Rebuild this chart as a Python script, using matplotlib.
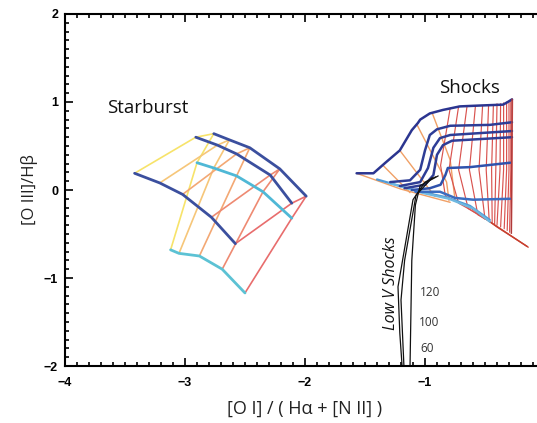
import numpy as np
import matplotlib.pyplot as plt
from matplotlib.ticker import MultipleLocator

# ---- starburst grid: rows (metallicity tracks) x columns (ionisation) ----
sb_rows = {
    'A': [(-3.42, 0.19), (-3.21, 0.08), (-3.02, -0.05), (-2.78, -0.31), (-2.58, -0.61)],
    'B': [(-2.91, 0.60), (-2.73, 0.51), (-2.57, 0.41), (-2.29, 0.17), (-2.11, -0.15)],
    'C': [(-2.76, 0.64), (-2.63, 0.57), (-2.46, 0.48), (-2.21, 0.24), (-1.99, -0.07)],
    'D': [(-2.90, 0.31), (-2.76, 0.25), (-2.57, 0.16), (-2.35, -0.02), (-2.11, -0.32)],
    'E': [(-3.12, -0.68), (-3.05, -0.72), (-2.88, -0.75), (-2.69, -0.90), (-2.50, -1.17)],
}
sb_row_colors = {'A': '#3b4f9e', 'B': '#3b4f9e', 'C': '#3b4f9e',
                 'D': '#4fb8d6', 'E': '#5cc2d4'}
sb_col_colors = ['#f7e36a', '#f6c679', '#f3a874', '#ee8a72', '#e86d6d']

# ---- shock grid ----
shock_top = [(-1.57, 0.19), (-1.43, 0.19), (-1.33, 0.31), (-1.21, 0.45), (-1.11, 0.68),
             (-1.06, 0.76), (-1.04, 0.80), (-0.96, 0.87), (-0.85, 0.91), (-0.71, 0.95),
             (-0.54, 0.96), (-0.35, 0.97), (-0.31, 1.00), (-0.275, 1.03)]
shock_b = [
    [(-1.29, 0.09), (-1.125, 0.11), (-1.04, 0.23), (-1.00, 0.45), (-0.96, 0.625),
     (-0.90, 0.69), (-0.79, 0.73), (-0.46, 0.74), (-0.275, 0.77)],
    [(-1.21, 0.045), (-1.04, 0.09), (-0.975, 0.25), (-0.93, 0.48), (-0.875, 0.59),
     (-0.79, 0.625), (-0.275, 0.67)],
    [(-1.17, 0.02), (-1.00, 0.06), (-0.93, 0.17), (-0.90, 0.40), (-0.85, 0.51),
     (-0.775, 0.56), (-0.275, 0.60)],
    [(-1.11, 0.00), (-0.96, 0.02), (-0.87, 0.06), (-0.83, 0.17), (-0.81, 0.25),
     (-0.625, 0.26), (-0.29, 0.31)],
    [(-1.08, -0.02), (-0.875, -0.02), (-0.75, -0.09), (-0.60, -0.11), (-0.29, -0.10)],
]
shock_b_colors = ['#2e3d96', '#2e3d96', '#2e3d96', '#2f52ac', '#3a6cc0']
shock_band = [
    [(-1.40, 0.12), (-1.04, -0.02), (-0.83, -0.08), (-0.625, -0.18), (-0.46, -0.34)],
    [(-1.30, 0.08), (-1.00, -0.04), (-0.80, -0.10), (-0.60, -0.21), (-0.46, -0.36)],
]
shock_band_colors = ['#4f9ad8', '#6fb8e0']

shock_orange = [
    [(-1.57, 0.19), (-1.20, 0.01), (-0.79, -0.14)],
    [(-1.35, 0.28), (-1.125, -0.03)],
    [(-1.21, 0.45), (-0.92, -0.07)],
    [(-1.07, 0.75), (-0.82, 0.09), (-0.80, -0.12)],
    [(-0.94, 0.875), (-0.79, 0.34), (-0.75, -0.11)],
]
shock_red = [
    [(-0.79, 0.93), (-0.87, 0.28), (-0.83, -0.07), (-0.60, -0.22)],
    [(-0.72, 0.95), (-0.80, 0.23), (-0.72, -0.15), (-0.55, -0.28)],
    [(-0.65, 0.95), (-0.72, 0.23), (-0.64, -0.21), (-0.50, -0.33)],
    [(-0.58, 0.95), (-0.63, 0.23), (-0.56, -0.28), (-0.47, -0.35)],
    [(-0.52, 0.96), (-0.55, 0.23), (-0.50, -0.33)],
    [(-0.47, 0.97), (-0.49, 0.23), (-0.465, -0.35)],
    [(-0.43, 0.97), (-0.445, 0.23), (-0.44, -0.37)],
    [(-0.40, 0.98), (-0.41, 0.23), (-0.42, -0.39)],
    [(-0.37, 0.98), (-0.375, 0.23), (-0.40, -0.40)],
    [(-0.345, 0.99), (-0.345, 0.23), (-0.37, -0.42)],
    [(-0.32, 1.00), (-0.32, 0.23), (-0.34, -0.44)],
    [(-0.30, 1.01), (-0.30, 0.23), (-0.315, -0.46)],
    [(-0.285, 1.02), (-0.285, 0.23), (-0.295, -0.48)],
    [(-0.27, 1.03), (-0.275, 0.23), (-0.28, -0.49)],
]
shock_tail = [
    [(-0.60, -0.22), (-0.46, -0.36), (-0.14, -0.65)],
    [(-0.52, -0.30), (-0.40, -0.42), (-0.15, -0.64)],
]

# ---- low velocity shocks ----
lowv = [
    [(-0.91, 0.15), (-1.00, 0.09), (-1.10, -0.11), (-1.225, -1.10), (-1.21, -1.625), (-1.19, -2.02)],
    [(-0.89, 0.16), (-1.04, 0.05), (-1.08, -0.17), (-1.11, -0.80), (-1.125, -2.02)],
    [(-0.94, 0.14), (-1.075, -0.06), (-1.17, -0.80), (-1.20, -1.25), (-1.175, -2.02)],
]
lowv_labels = ['120', '100', '60']
lowv_label_pos = [(-0.955, -1.17), (-0.97, -1.51), (-0.985, -1.80)]

x_ticks = [-4, -3, -2, -1]
y_ticks = [-2, -1, 0, 1, 2]


def draw(ax, pts, **kw):
    a = np.array(pts)
    ax.plot(a[:, 0], a[:, 1], solid_capstyle='round', solid_joinstyle='round', **kw)


fig = plt.figure(figsize=(5.37, 4.23), dpi=100)
ax = fig.add_axes([65 / 537, 57 / 423, 480 / 537, 352 / 423])

# starburst columns then rows
keys = list(sb_rows)
for j, c in enumerate(sb_col_colors):
    draw(ax, [sb_rows[k][j] for k in keys], color=c, lw=1.2)
for k in keys:
    draw(ax, sb_rows[k], color=sb_row_colors[k], lw=2.0)

# shocks
for line in shock_orange:
    draw(ax, line, color='#f0a066', lw=1.0)
for line in shock_red:
    draw(ax, line, color='#d9534f', lw=0.85)
for line in shock_tail:
    draw(ax, line, color='#c8402f', lw=1.0)
for line, c in zip(shock_band, shock_band_colors):
    draw(ax, line, color=c, lw=1.6)
for line, c in zip(shock_b, shock_b_colors):
    draw(ax, line, color=c, lw=1.8)
draw(ax, shock_top, color='#2b3590', lw=1.8)
ax.plot([shock_top[-1][0], shock_red[-1][-1][0]],
        [shock_top[-1][1], shock_red[-1][-1][1]], color='#b03a3a', lw=1.0)

for line in lowv:
    draw(ax, line, color='#111111', lw=0.9)
for t, (x, y) in zip(lowv_labels, lowv_label_pos):
    ax.text(x, y, t, fontsize=8.5, color='#333333', ha='center', va='center',
            family='Open Sans')

ax.text(-1.28, -1.06, 'Low V Shocks', rotation=90, fontsize=11.5, ha='center',
        va='center', family='Open Sans', style='italic', color='#111111')
ax.text(-3.31, 0.93, 'Starburst', fontsize=13.5, ha='center', va='center',
        family='Open Sans', color='#111111')
ax.text(-0.625, 1.16, 'Shocks', fontsize=13.5, ha='center', va='center',
        family='Open Sans', color='#111111')

ax.set_xlim(-4, 0)
ax.set_ylim(-2, 2)
ax.set_xticks(x_ticks)
ax.set_yticks(y_ticks)
ax.xaxis.set_minor_locator(MultipleLocator(0.1))
ax.yaxis.set_minor_locator(MultipleLocator(0.1))
ax.tick_params(which='both', direction='in', top=True, right=True, width=1.2)
ax.tick_params(which='major', length=6)
ax.tick_params(axis='x', which='major', pad=8)
ax.tick_params(axis='y', which='major', pad=5)
ax.tick_params(which='minor', length=3)
for lab in ax.get_xticklabels() + ax.get_yticklabels():
    lab.set_fontweight('bold')
    lab.set_fontsize(9)
    lab.set_family('Liberation Sans')
for s in ax.spines.values():
    s.set_linewidth(1.5)

ax.set_xlabel('[O I] / ( H\u03b1 + [N II] )', fontsize=13, family='Open Sans',
              color='#222222', labelpad=8)
ax.set_ylabel('[O III]/H\u03b2', fontsize=12, family='Open Sans', color='#222222',
              labelpad=4)

fig.savefig('out.png', dpi=100)
